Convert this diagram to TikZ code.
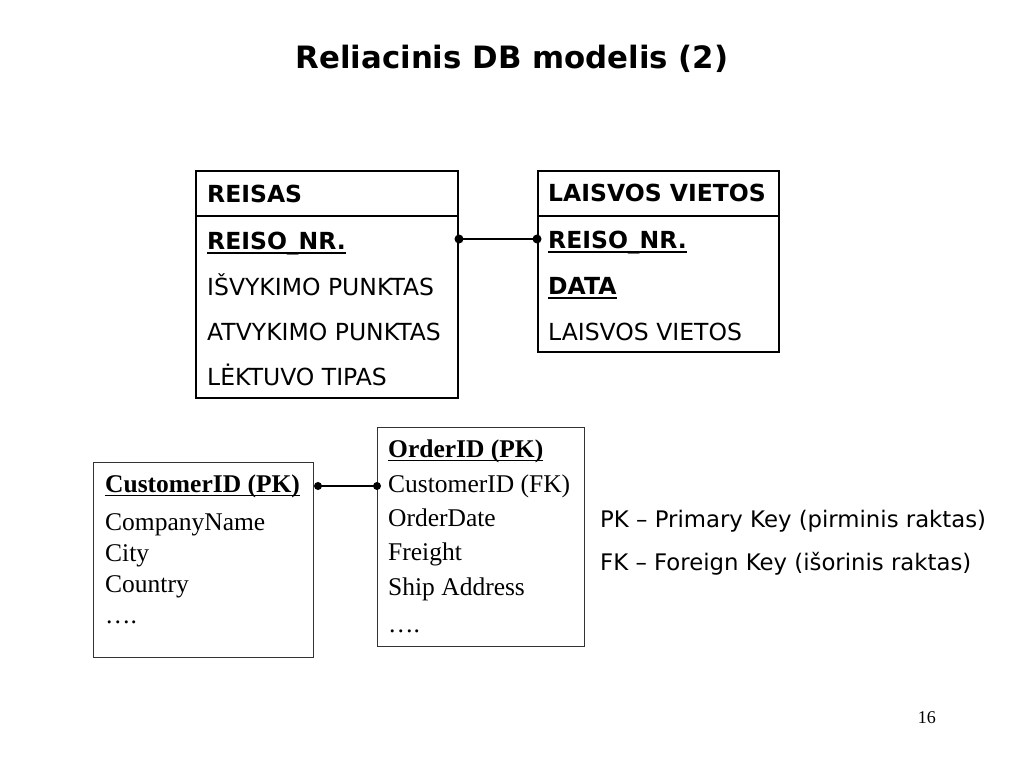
\documentclass[tikz,border=0pt]{standalone}
\usepackage{fontspec}
\newfontfamily\tah{DejaVu Sans}
\newfontfamily\tms{Liberation Serif}
\begin{document}
\begin{tikzpicture}[x=1pt,y=-1pt,
  tbox/.style={draw=black,line width=2pt,inner sep=0pt,anchor=north west},
  sbox/.style={draw=black!80,line width=1.3pt,inner sep=0pt,anchor=north west},
  ttext/.style={inner sep=0pt,anchor=base west,font=\tah\fontsize{23.5}{28}\selectfont},
  tbold/.style={ttext,font=\tah\bfseries\fontsize{23.5}{28}\selectfont},
  ltext/.style={inner sep=0pt,anchor=base west,font=\tah\fontsize{22.8}{28}\selectfont},
  stext/.style={inner sep=0pt,anchor=base west,font=\tms\fontsize{25.5}{30}\selectfont},
  sbold/.style={stext,font=\tms\bfseries\fontsize{25.5}{30}\selectfont},
  uline/.style={line width=2pt},
  suline/.style={line width=1.3pt},
  conn/.style={line width=2pt},
  sconn/.style={line width=1.5pt}]
\useasboundingbox[fill=white] (0,0) rectangle (1024,768);

% title
\node[inner sep=0pt,anchor=base,font=\tah\bfseries\fontsize{30.8}{36}\selectfont] (title) at (512,68) {Reliacinis DB modelis (2)};

% REISAS table
\node[tbox,minimum width=262pt,minimum height=227pt] (reisas) at (195,170) {};
\draw[line width=2pt] ([yshift=-46pt]reisas.north west) -- ([yshift=-46pt]reisas.north east);
\node[tbold] (rh) at (207,202) {REISAS};
\node[tbold] (r1) at (207,249) {REISO\_NR.};
\node[ttext] (r2) at (207,295) {IŠVYKIMO PUNKTAS};
\node[ttext] (r3) at (207,340) {ATVYKIMO PUNKTAS};
\node[ttext] (r4) at (207,385) {LĖKTUVO TIPAS};
\draw[uline] ([yshift=-4pt]r1.base west) -- ([yshift=-4pt]r1.base east);

% LAISVOS VIETOS table
\node[tbox,minimum width=241pt,minimum height=181pt] (laisvos) at (537,170) {};
\draw[line width=2pt] ([yshift=-46pt]laisvos.north west) -- ([yshift=-46pt]laisvos.north east);
\node[tbold] (lh) at (548,201) {LAISVOS VIETOS};
\node[tbold] (l1) at (548,248) {REISO\_NR.};
\node[tbold] (l2) at (548,294) {DATA};
\node[ttext] (l3) at (548,340) {LAISVOS VIETOS};
\draw[uline] ([yshift=-4pt]l1.base west) -- ([yshift=-4pt]l1.base east);
\draw[uline] ([yshift=-4pt]l2.base west) -- ([yshift=-4pt]l2.base east);

% top connector
\coordinate (p1) at (reisas.east |- 0,239);
\coordinate (p2) at (laisvos.west |- 0,239);
\draw[conn] (p1) -- (p2);
\fill (p1) circle (4.5pt);
\fill (p2) circle (4.5pt);

% Customer table
\node[sbox,minimum width=220pt,minimum height=195pt] (cust) at (93,462) {};
\node[sbold] (c1) at (105,492) {CustomerID (PK)};
\node[stext] (c2) at (105,530) {CompanyName};
\node[stext] (c3) at (105,561) {City};
\node[stext] (c4) at (105,592) {Country};
\node[stext] (c5) at (105,623) {….};
\draw[suline] ([yshift=-3.5pt]c1.base west) -- ([yshift=-3.5pt]c1.base east);

% Order table
\node[sbox,minimum width=207pt,minimum height=219pt] (ord) at (377,427) {};
\node[sbold] (o1) at (388,457) {OrderID (PK)};
\node[stext] (o2) at (388,492) {CustomerID (FK)};
\node[stext] (o3) at (388,526) {OrderDate};
\node[stext] (o4) at (388,560) {Freight};
\node[stext] (o5) at (388,595) {Ship Address};
\node[stext] (o6) at (388,632) {….};
\draw[suline] ([yshift=-3.5pt]o1.base west) -- ([yshift=-3.5pt]o1.base east);

% bottom connector
\coordinate (q1) at (318,486);
\coordinate (q2) at (ord.west |- 0,486);
\draw[sconn] (q1) -- (q2);
\fill (q1) circle (4pt);
\fill (q2) circle (4pt);

% legend
\node[ltext] (pk) at (600,527) {PK – Primary Key (pirminis raktas)};
\node[ltext] (fk) at (600,570) {FK – Foreign Key (išorinis raktas)};

% page number
\node[inner sep=0pt,anchor=base east,font=\tms\fontsize{18}{22}\selectfont] (pg) at (936,723) {16};
\end{tikzpicture}
\end{document}
